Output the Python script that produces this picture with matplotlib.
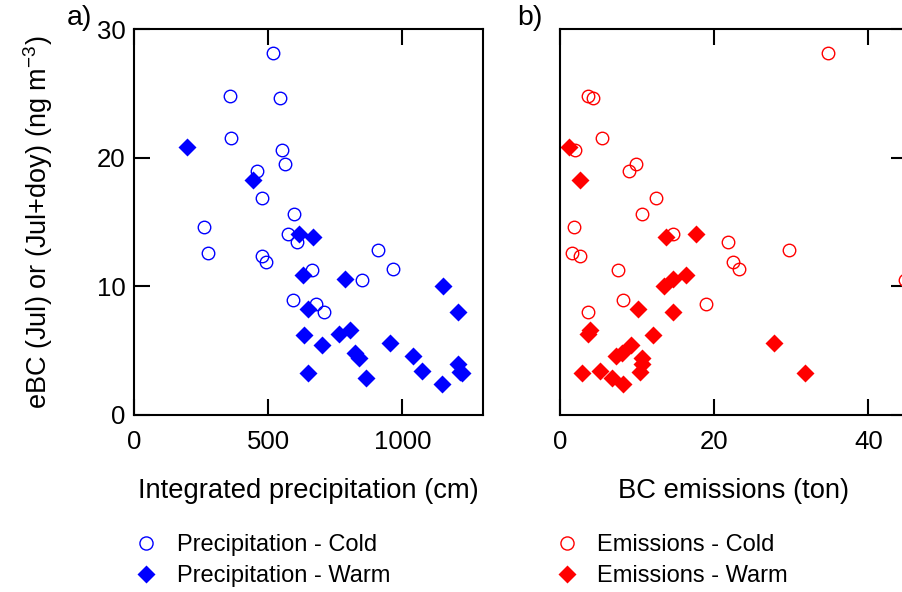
import matplotlib
matplotlib.use('Agg')
import matplotlib.pyplot as plt

plt.rcParams['font.family'] = ['Liberation Sans', 'DejaVu Sans']
plt.rcParams['mathtext.default'] = 'regular'

# eBC values (ng m-3) shared by both panels
cold_y = [28.15, 24.8, 24.6, 21.5, 20.6, 19.5, 19.0, 16.9, 15.6, 14.6, 14.1,
          13.45, 12.85, 12.6, 12.35, 11.9, 11.35, 11.3, 10.5, 8.9, 8.6, 8.0]
cold_prec = [517, 358, 544, 360, 552, 561, 458, 477, 595, 261, 574,
             608, 909, 276, 476, 493, 965, 662, 850, 591, 679, 709]
cold_emis = [34.8, 3.7, 4.3, 5.5, 1.9, 9.9, 8.9, 12.4, 10.7, 1.8, 14.6,
             21.8, 29.7, 1.5, 2.55, 22.5, 23.2, 7.5, 44.7, 8.2, 18.9, 3.7]

warm_y = [20.85, 18.3, 14.05, 13.8, 10.9, 10.55, 10.0, 8.2, 8.0, 6.6, 6.3, 6.2,
          5.6, 5.46, 4.85, 4.6, 4.43, 4.0, 3.37, 3.42, 3.26, 3.24, 2.9, 2.38]
warm_prec = [199, 443, 616, 667, 629, 786, 1152, 649, 1205, 803, 765, 633,
             952, 701, 822, 1039, 839, 1208, 1214, 1074, 649, 1220, 865, 1147]
warm_emis = [1.2, 2.6, 17.7, 13.8, 16.3, 14.7, 13.5, 10.1, 14.7, 3.9, 3.6, 12.1,
             27.7, 9.2, 8.0, 7.3, 10.6, 10.7, 10.35, 5.2, 2.8, 31.8, 6.7, 8.2]

fig = plt.figure(figsize=(9.02, 5.92), dpi=100)
ax1 = fig.add_axes([0.1486, 0.299, 0.3869, 0.652])
ax2 = fig.add_axes([0.6208, 0.299, 0.3847, 0.652])

fs = 18.5


def style_axes(ax):
    for sp in ax.spines.values():
        sp.set_linewidth(1.5)
    ax.tick_params(direction='in', length=11.5, width=1.5, labelsize=fs)
    ax.tick_params(axis='x', pad=11)
    ax.tick_params(axis='y', pad=6)


# a) precipitation
c1, = ax1.plot(cold_prec, cold_y, 'o', ms=9, mfc='none', mec='#0000ff', mew=1)
w1, = ax1.plot(warm_prec, warm_y, 'D', ms=9, color='#0000ff', mec='none')
ax1.set_xlim(0, 1300)
ax1.set_ylim(0, 30)
ax1.set_xticks([0, 500, 1000])
ax1.set_yticks([0, 10, 20, 30])
style_axes(ax1)
ax1.tick_params(top=True, right=False)
ax1.set_xlabel('Integrated precipitation (cm)', fontsize=19.7, labelpad=17)
ax1.set_ylabel('eBC (Jul) or (Jul+doy) (ng m$^{-3}$)', fontsize=19.5, labelpad=30)

# b) emissions
c2, = ax2.plot(cold_emis, cold_y, 'o', ms=9, mfc='none', mec='#ff0000', mew=1)
w2, = ax2.plot(warm_emis, warm_y, 'D', ms=9, color='#ff0000', mec='none')
ax2.set_xlim(0, 45)
ax2.set_ylim(0, 30)
ax2.set_xticks([0, 20, 40])
ax2.set_yticks([0, 10, 20, 30])
style_axes(ax2)
ax2.tick_params(top=True, left=False, right=True, labelleft=False, labelright=False)
ax2.set_xlabel('BC emissions (ton)', fontsize=19.7, labelpad=17)

fig.text(0.074, 0.97, 'a)', fontsize=20.5, va='center')
fig.text(0.573, 0.97, 'b)', fontsize=20.5, va='center')

fig.legend([c1, w1], ['Precipitation - Cold', 'Precipitation - Warm'],
           loc='upper left', bbox_to_anchor=(0.149, 0.098), frameon=False,
           fontsize=17, handlelength=1.0, handletextpad=0.8, labelspacing=0.4,
           borderaxespad=0, borderpad=0, markerscale=1.05)
fig.legend([c2, w2], ['Emissions - Cold', 'Emissions - Warm'],
           loc='upper left', bbox_to_anchor=(0.615, 0.098), frameon=False,
           fontsize=17, handlelength=1.0, handletextpad=0.8, labelspacing=0.4,
           borderaxespad=0, borderpad=0, markerscale=1.05)

fig.savefig('out.png', dpi=100)
